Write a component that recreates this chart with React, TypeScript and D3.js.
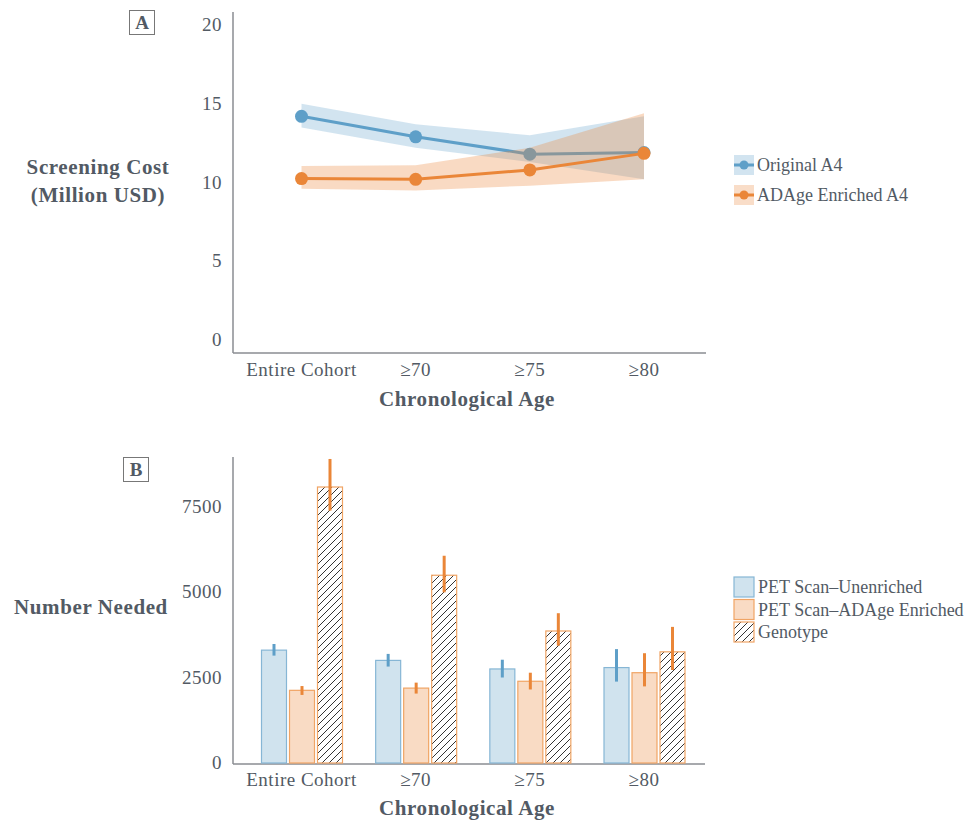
import React from 'react';
import * as d3 from 'd3';

const ages = ['Entire Cohort', '≥70', '≥75', '≥80'];

// panel A: screening cost (million USD)
const originalCost = [14.2, 12.9, 11.8, 11.9];
const originalLow = [13.5, 12.2, 11.3, 10.2];
const originalHigh = [15.0, 13.7, 13.0, 14.2];
const enrichedCost = [10.25, 10.2, 10.8, 11.85];
const enrichedLow = [9.6, 9.5, 9.8, 10.2];
const enrichedHigh = [11.05, 11.1, 12.2, 14.4];
const costTicks = [0, 5, 10, 15, 20];

// panel B: number needed
const barSeries = ['PET Scan–Unenriched', 'PET Scan–ADAge Enriched', 'Genotype'];
const unenrichedN = [3300, 3000, 2750, 2790];
const unenrichedLow = [3140, 2820, 2500, 2380];
const unenrichedHigh = [3480, 3190, 3020, 3330];
const enrichedN = [2125, 2190, 2390, 2640];
const enrichedNLow = [1990, 2030, 2150, 2240];
const enrichedNHigh = [2250, 2350, 2640, 3210];
const genotypeN = [8070, 5490, 3860, 3250];
const genotypeLow = [7380, 4990, 3430, 2720];
const genotypeHigh = [8890, 6060, 4380, 3980];
const countTicks = [0, 2500, 5000, 7500];

const BLUE = '#5e9fc8';
const ORANGE = '#ea8638';
const TEXT = '#525a64';
const AXIS = '#8a8d92';
const FONT = '"Liberation Serif", "DejaVu Serif", serif';

export default function App() {
  const x = d3.scalePoint<string>().domain(ages).range([301.5, 644]);
  const yA = d3.scaleLinear().domain([0, 20]).range([340, 25]);
  const yB = d3.scaleLinear().domain([0, 7500]).range([763, 506.5]);
  const inner = d3.scaleBand<string>().domain(barSeries).range([-40, 41]).paddingInner(0.107);

  const band = (lo: number[], hi: number[]) =>
    d3.area<number>()
      .x((_, i) => x(ages[i])!)
      .y0((_, i) => yA(lo[i]))
      .y1((_, i) => yA(hi[i]))(lo.map((_, i) => i))!;
  const line = (v: number[]) =>
    d3.line<number>()
      .x((_, i) => x(ages[i])!)
      .y(d => yA(d))(v)!;

  const barData = [
    { key: barSeries[0], v: unenrichedN, lo: unenrichedLow, hi: unenrichedHigh, fill: '#d0e3ee', stroke: '#86b6d5', err: BLUE },
    { key: barSeries[1], v: enrichedN, lo: enrichedNLow, hi: enrichedNHigh, fill: '#f9dbc4', stroke: '#f0a464', err: ORANGE },
    { key: barSeries[2], v: genotypeN, lo: genotypeLow, hi: genotypeHigh, fill: 'url(#hatch)', stroke: '#f0a464', err: ORANGE },
  ];

  const tickText = { fontFamily: FONT, fontSize: 18, fill: TEXT } as const;
  const axisTickText = { ...tickText, fontSize: 19, letterSpacing: 0.5 } as const;
  const titleText = { fontFamily: FONT, fontSize: 21, fontWeight: 700, fill: TEXT, letterSpacing: 0.6 } as const;

  return (
    <svg width={968} height={822} style={{ position: 'absolute', left: 0, top: 0, background: '#fff' }}>
      <defs>
        <pattern id="hatch" patternUnits="userSpaceOnUse" width={7} height={7}>
          <rect width={7} height={7} fill="#fff" />
          <path d="M-1,1 l2,-2 M0,7 l7,-7 M6,8 l2,-2" stroke="#333" strokeWidth={1} />
        </pattern>
      </defs>

      {/* ---------- panel A ---------- */}
      <rect x={129.5} y={10.5} width={25} height={24} fill="none" stroke="#777" />
      <text x={142} y={29} textAnchor="middle" {...titleText} letterSpacing={0} fontSize={19}>A</text>

      <line x1={233} x2={233} y1={12} y2={353} stroke={AXIS} strokeWidth={1.5} />
      <line x1={233} x2={706} y1={353} y2={353} stroke={AXIS} strokeWidth={1.5} />
      {costTicks.map(t => (
        <text key={t} x={222} y={yA(t) + 6} textAnchor="end" {...axisTickText}>{t}</text>
      ))}
      {ages.map(a => (
        <text key={a} x={x(a)} y={376} textAnchor="middle" {...axisTickText}>{a}</text>
      ))}
      <text x={467} y={406} textAnchor="middle" {...titleText}>Chronological Age</text>
      <text x={98} y={174} textAnchor="middle" {...titleText}>Screening Cost</text>
      <text x={98} y={202} textAnchor="middle" {...titleText}>(Million USD)</text>

      <path d={band(originalLow, originalHigh)} fill={BLUE} fillOpacity={0.28} />
      <path d={line(originalCost)} fill="none" stroke={BLUE} strokeWidth={3} />
      {originalCost.map((v, i) => (
        <circle key={i} cx={x(ages[i])} cy={yA(v)} r={6.5} fill={BLUE} />
      ))}
      <path d={band(enrichedLow, enrichedHigh)} fill={ORANGE} fillOpacity={0.3} />
      <path d={line(enrichedCost)} fill="none" stroke={ORANGE} strokeWidth={3} />
      {enrichedCost.map((v, i) => (
        <circle key={i} cx={x(ages[i])} cy={yA(v)} r={6.5} fill={ORANGE} />
      ))}

      {[{ name: 'Original A4', c: BLUE }, { name: 'ADAge Enriched A4', c: ORANGE }].map((d, i) => (
        <g key={d.name} transform={`translate(734,${155 + i * 30})`}>
          <rect width={20} height={20} fill={d.c} fillOpacity={0.28} />
          <line x1={0} x2={20} y1={10} y2={10} stroke={d.c} strokeWidth={3} />
          <circle cx={10} cy={10} r={4.5} fill={d.c} />
          <text x={23} y={16} {...tickText}>{d.name}</text>
        </g>
      ))}

      {/* ---------- panel B ---------- */}
      <rect x={123.5} y={457.5} width={25} height={24} fill="none" stroke="#777" />
      <text x={136} y={476} textAnchor="middle" {...titleText} letterSpacing={0} fontSize={19}>B</text>

      <line x1={233} x2={233} y1={457} y2={764} stroke={AXIS} strokeWidth={1.5} />
      <line x1={233} x2={705} y1={764} y2={764} stroke={AXIS} strokeWidth={1.5} />
      {countTicks.map(t => (
        <text key={t} x={222} y={yB(t) + 6} textAnchor="end" {...axisTickText}>{t}</text>
      ))}
      {ages.map(a => (
        <text key={a} x={x(a)} y={786} textAnchor="middle" {...axisTickText}>{a}</text>
      ))}
      <text x={467} y={815} textAnchor="middle" {...titleText}>Chronological Age</text>
      <text x={91} y={614} textAnchor="middle" {...titleText}>Number Needed</text>

      {barData.map(s => (
        <g key={s.key}>
          {s.v.map((v, i) => {
            const bx = x(ages[i])! + inner(s.key)!;
            return (
              <rect key={i} x={bx} y={yB(v)} width={inner.bandwidth()} height={yB(0) - yB(v)}
                fill={s.fill} stroke={s.stroke} strokeWidth={1.2} />
            );
          })}
        </g>
      ))}
      {barData.map(s => (
        <g key={s.key + '-err'}>
          {s.v.map((_, i) => {
            const cx = x(ages[i])! + inner(s.key)! + inner.bandwidth() / 2;
            return (
              <line key={i} x1={cx} x2={cx} y1={yB(s.lo[i])} y2={yB(s.hi[i])} stroke={s.err} strokeWidth={3} />
            );
          })}
        </g>
      ))}

      {barData.map((s, i) => (
        <g key={s.key + '-leg'} transform={`translate(734,${577 + i * 22.5})`}>
          <rect width={20} height={20} fill={s.fill} stroke={s.stroke} strokeWidth={1.2} />
          <text x={24} y={16} {...tickText}>{s.key}</text>
        </g>
      ))}
    </svg>
  );
}
